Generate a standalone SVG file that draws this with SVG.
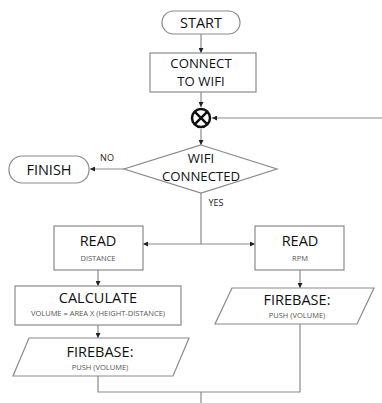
<svg xmlns="http://www.w3.org/2000/svg" width="382" height="403" viewBox="0 0 382 403">
<style>
.s{fill:#fff;stroke:#8a8a8a;stroke-width:1.2}
.t{font-family:"Open Sans","Liberation Sans",sans-serif;font-size:14.5px;fill:#111;text-anchor:middle}
.t2{font-family:"Open Sans","Liberation Sans",sans-serif;font-size:13.2px;fill:#111;text-anchor:middle}
.st{font-family:"Open Sans","Liberation Sans",sans-serif;font-size:7.5px;fill:#555;text-anchor:middle}
.lb{font-family:"Open Sans","Liberation Sans",sans-serif;font-size:9px;fill:#222;text-anchor:middle}
.c{fill:none;stroke:#8a8a8a;stroke-width:1.2}
</style>
<defs>
<marker id="a" viewBox="0 0 6 6" refX="6" refY="3" markerWidth="5" markerHeight="5" orient="auto" markerUnits="userSpaceOnUse">
<path d="M0,0 L6,3 L0,6 z" fill="#222"/>
</marker>
</defs>
<rect width="382" height="403" fill="#fff"/>
<g id="connectors">
<line class="c" x1="201" y1="34" x2="201" y2="53" marker-end="url(#a)"/>
<line class="c" x1="201" y1="92" x2="201" y2="107" marker-end="url(#a)"/>
<line class="c" x1="382" y1="118" x2="212" y2="118" marker-end="url(#a)"/>
<line class="c" x1="201" y1="129" x2="201" y2="145" marker-end="url(#a)"/>
<line class="c" x1="124" y1="169" x2="90" y2="169" marker-end="url(#a)"/>
<polyline class="c" points="201,193 201,244 143,244" marker-end="url(#a)"/>
<polyline class="c" points="201,244 255,244" marker-end="url(#a)"/>
<line class="c" x1="98" y1="270" x2="98" y2="286" marker-end="url(#a)"/>
<line class="c" x1="98" y1="325" x2="98" y2="338" marker-end="url(#a)"/>
<line class="c" x1="300" y1="270" x2="300" y2="288" marker-end="url(#a)"/>
<polyline class="c" points="98,376 98,392 300,392 300,324"/>
<line class="c" x1="201" y1="392" x2="201" y2="403"/>
<text class="lb" x="107" y="161">NO</text>
<text class="lb" x="216" y="206">YES</text>
</g>
<g id="start">
<rect class="s" x="162" y="11" width="78" height="23" rx="11.5"/>
<text class="t" x="201" y="28">START</text>
</g>
<g id="connect">
<rect class="s" x="150" y="53" width="106" height="39"/>
<text class="t2" x="201" y="68">CONNECT</text>
<text class="t2" x="201" y="86">TO WIFI</text>
</g>
<g id="junction">
<circle cx="201" cy="118" r="9" fill="#fff" stroke="#111" stroke-width="2.5"/>
<path d="M194.6,111.6 L207.4,124.4 M207.4,111.6 L194.6,124.4" stroke="#111" stroke-width="2.5"/>
</g>
<g id="decision">
<polygon class="s" points="201,145 277,169 201,193 124,169"/>
<text class="t2" x="201" y="162.5">WIFI</text>
<text class="t2" x="201" y="180.5">CONNECTED</text>
</g>
<g id="finish">
<rect class="s" x="9" y="156" width="80" height="27" rx="13"/>
<text class="t" x="49" y="175">FINISH</text>
</g>
<g id="read-distance">
<rect class="s" x="54" y="226" width="89" height="44"/>
<text class="t" x="98" y="246">READ</text>
<text class="st" x="98" y="261">DISTANCE</text>
</g>
<g id="read-rpm">
<rect class="s" x="255" y="226" width="89" height="44"/>
<text class="t" x="300" y="246">READ</text>
<text class="st" x="300" y="261">RPM</text>
</g>
<g id="calculate">
<rect class="s" x="15" y="286" width="166" height="39"/>
<text class="t" x="98" y="303">CALCULATE</text>
<text class="st" x="98" y="316">VOLUME = AREA X (HEIGHT-DISTANCE)</text>
</g>
<g id="firebase-left">
<polygon class="s" points="29,338 189,338 173,376 13,376"/>
<text class="t" x="100" y="357">FIREBASE:</text>
<text class="st" x="100" y="370">PUSH (VOLUME)</text>
</g>
<g id="firebase-right">
<polygon class="s" points="232,288 374,288 357,324 215,324"/>
<text class="t" x="297" y="305">FIREBASE:</text>
<text class="st" x="297" y="318">PUSH (VOLUME)</text>
</g>
</svg>
